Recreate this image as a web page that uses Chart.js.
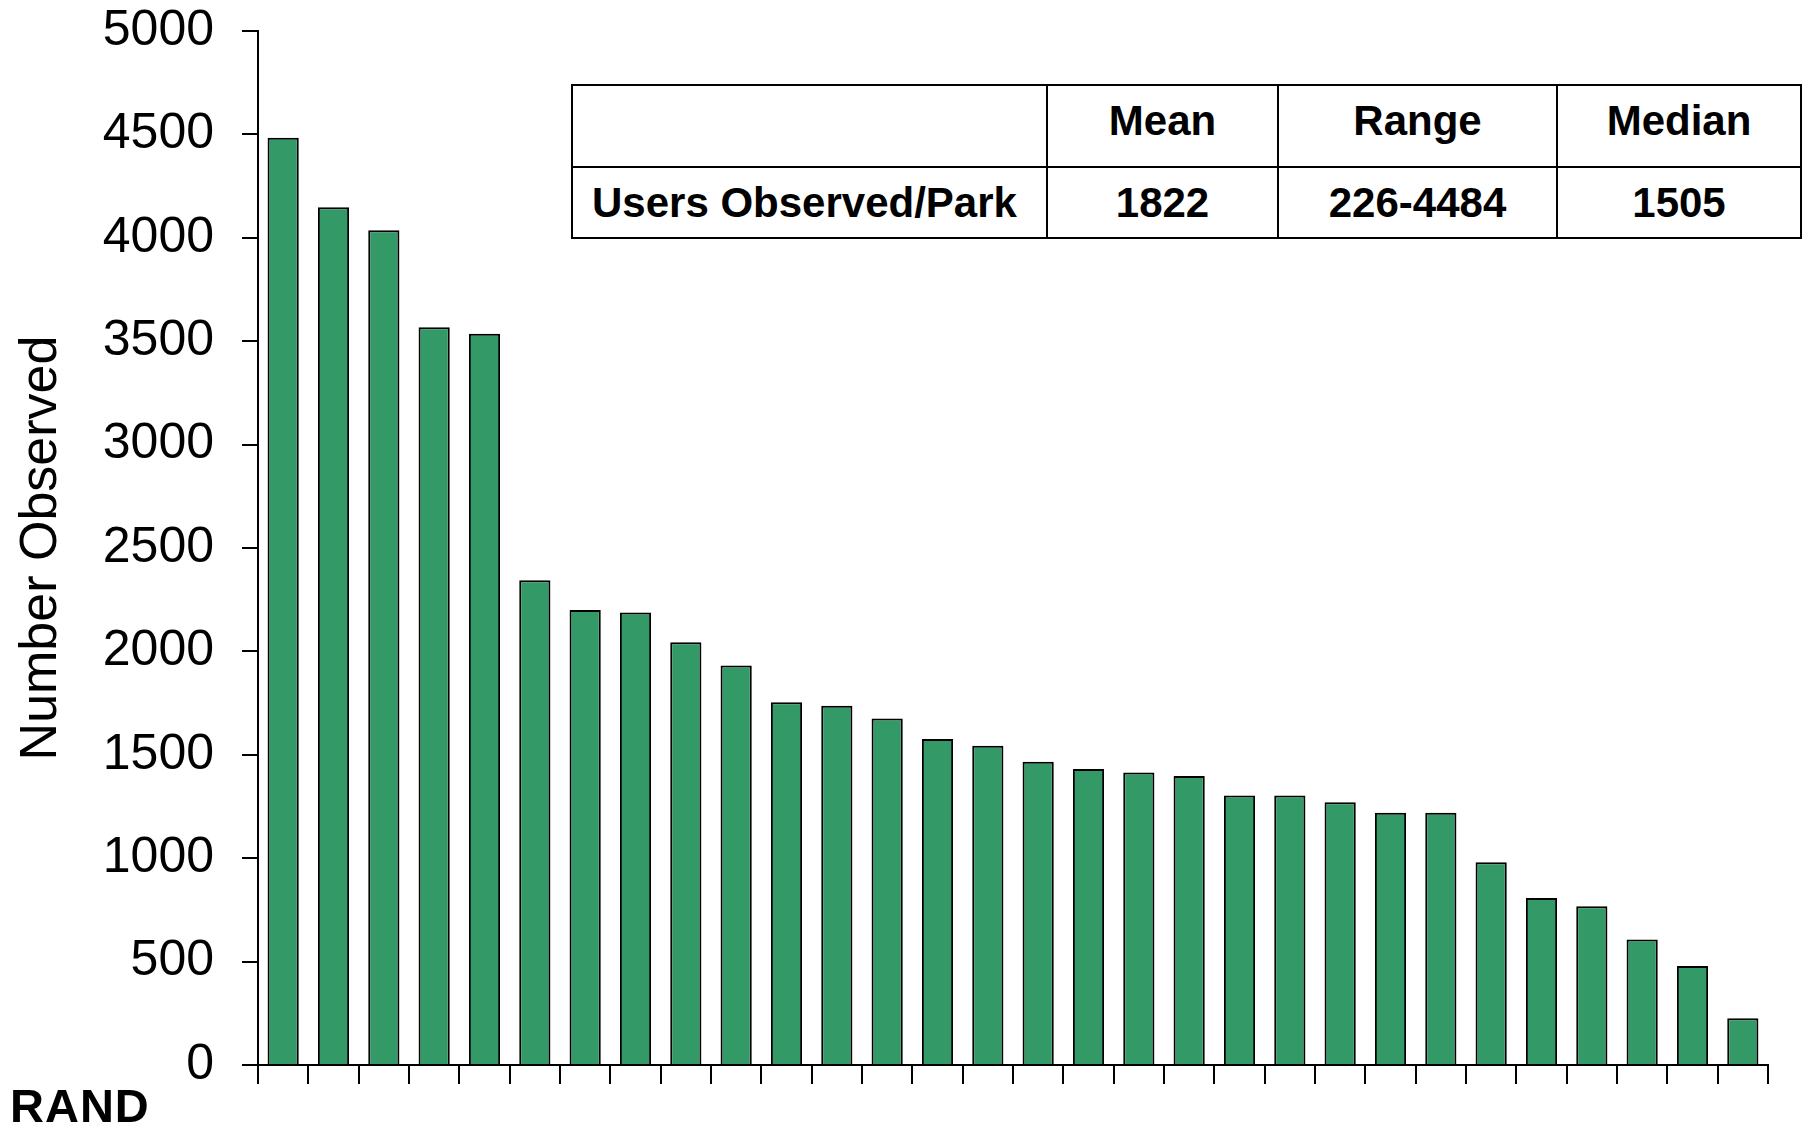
<!DOCTYPE html>
<html>
<head>
<meta charset="utf-8">
<script src="https://cdn.jsdelivr.net/npm/chart.js@4"></script>
<style>
  body { margin: 0; background: #fff; }
  #wrap { position: relative; width: 1805px; height: 1128px; }
  #usersChart { position: absolute; left: 0; top: 0; }
  #stats {
    position: absolute; left: 571px; top: 84px; width: 1229px; height: 153px;
    border-collapse: collapse; table-layout: fixed; background: #fff;
    font-family: "Liberation Sans", Arial, sans-serif; font-weight: bold; font-size: 42px;
  }
  #stats td { box-sizing: border-box; border: 2px solid #000; text-align: center; padding: 0; white-space: nowrap; }
  #stats tr.head td { padding-bottom: 10px; }
  #stats td.rowhead { text-align: left; padding-left: 19px; }
  #logo {
    position: absolute; left: 10px; top: 1078px;
    font-family: "Liberation Sans", Arial, sans-serif; font-weight: bold; font-size: 47px;
    letter-spacing: 1px;
  }
</style>
</head>
<body>
<div id="wrap">
  <canvas id="usersChart" width="1805" height="1128"></canvas>
  <table id="stats"></table>
  <div id="logo">RAND</div>
</div>
<script>
// users observed per park, sorted high to low
const parks = Array.from({ length: 30 }, (_, i) => 'Park ' + (i + 1));
const usersObserved = [
  4484, 4148, 4036, 3568, 3536, 2344, 2200, 2188, 2044, 1932,
  1754, 1737, 1676, 1576, 1544, 1466, 1431, 1414, 1398, 1303,
  1303, 1270, 1220, 1220, 980, 807, 768, 607, 479, 226
];
const yTicks = { min: 0, max: 5000, step: 500 };
const tableHeader = ['', 'Mean', 'Range', 'Median'];
const tableRow = ['Users Observed/Park', '1822', '226-4484', '1505'];
const colWidths = [475, 231, 279, 244];

const tbl = document.getElementById('stats');
const cg = document.createElement('colgroup');
colWidths.forEach(w => {
  const col = document.createElement('col');
  col.style.width = w + 'px';
  cg.appendChild(col);
});
tbl.appendChild(cg);
[tableHeader, tableRow].forEach((cells, r) => {
  const tr = document.createElement('tr');
  tr.style.height = r === 0 ? '82px' : '71px';
  if (r === 0) tr.className = 'head';
  cells.forEach((c, i) => {
    const td = document.createElement('td');
    td.textContent = c;
    if (i === 0) td.className = 'rowhead';
    tr.appendChild(td);
  });
  tbl.appendChild(tr);
});

const ctx = document.getElementById('usersChart').getContext('2d');
new Chart(ctx, {
  type: 'bar',
  data: {
    labels: parks,
    datasets: [{
      data: usersObserved,
      backgroundColor: '#339966',
      borderColor: '#000',
      borderWidth: 2,
      barPercentage: 0.62,
      categoryPercentage: 1.0
    }]
  },
  options: {
    responsive: false,
    animation: false,
    layout: { padding: { left: 0, top: 31, right: 37, bottom: 0 } },
    plugins: { legend: { display: false }, tooltip: { enabled: false } },
    scales: {
      x: {
        grid: { display: true, offset: true, drawOnChartArea: false, drawTicks: true, tickLength: 19, color: '#000', lineWidth: 2 },
        border: { display: true, color: '#000', width: 2 },
        ticks: { display: false },
        afterFit: s => { s.height = 63; }
      },
      y: {
        min: yTicks.min,
        max: yTicks.max,
        grid: { drawOnChartArea: false, drawTicks: true, tickLength: 16, color: '#000', lineWidth: 2 },
        border: { display: true, color: '#000', width: 2 },
        ticks: {
          stepSize: yTicks.step,
          color: '#000',
          padding: 28,
          font: { family: 'Liberation Sans', size: 50 },
          callback: v => String(v)
        },
        title: {
          display: true,
          text: 'Number Observed',
          color: '#000',
          padding: { top: 10, bottom: 0 },
          font: { family: 'Liberation Sans', size: 52 }
        },
        afterFit: s => { s.width = 258; s.paddingTop = 0; s.paddingBottom = 0; }
      }
    }
  }
});
</script>
</body>
</html>
